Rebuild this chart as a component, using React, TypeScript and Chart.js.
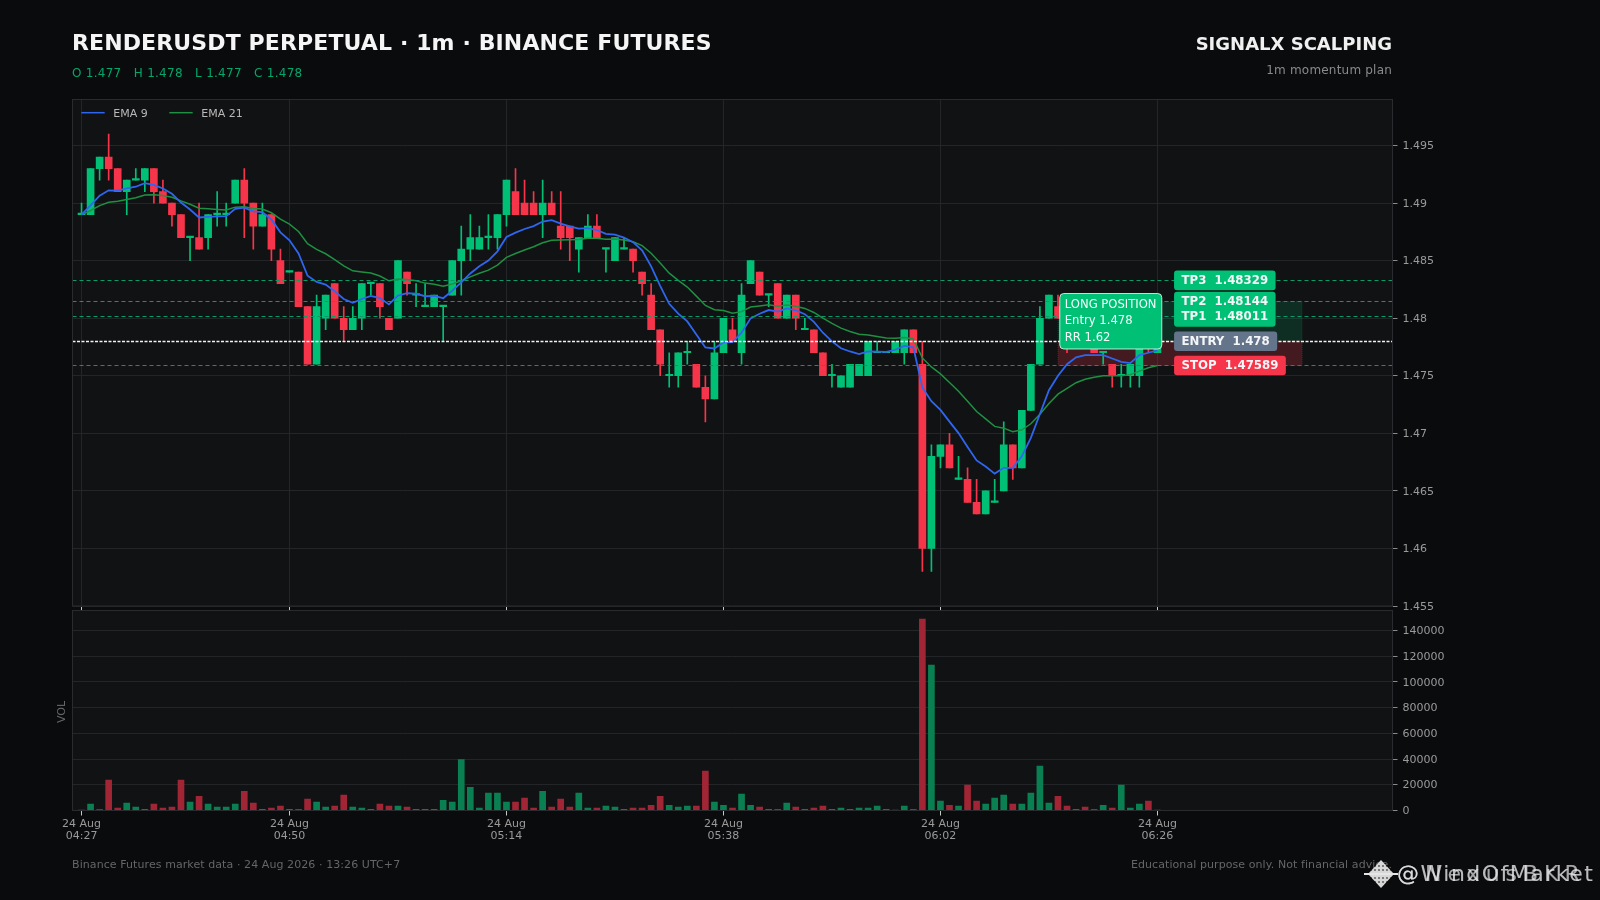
import React, { useEffect, useRef } from "react";
import { Chart, registerables } from "chart.js";

Chart.register(...registerables);

const FONT = '"DejaVu Sans", sans-serif';

const opens = [1.489,1.489,1.493,1.494,1.493,1.491,1.492,1.492,1.493,1.491,1.49,1.489,1.487,1.487,1.487,1.489,1.489,1.49,1.492,1.49,1.488,1.489,1.485,1.484,1.484,1.481,1.476,1.48,1.483,1.48,1.479,1.48,1.483,1.483,1.48,1.48,1.484,1.482,1.481,1.481,1.481,1.482,1.485,1.486,1.486,1.487,1.487,1.489,1.491,1.49,1.49,1.489,1.49,1.488,1.488,1.486,1.487,1.488,1.486,1.485,1.486,1.486,1.484,1.482,1.479,1.475,1.475,1.477,1.476,1.474,1.473,1.477,1.479,1.477,1.483,1.484,1.482,1.483,1.48,1.482,1.479,1.479,1.477,1.475,1.474,1.474,1.475,1.475,1.477,1.477,1.477,1.477,1.479,1.476,1.46,1.468,1.469,1.466,1.466,1.464,1.463,1.464,1.465,1.469,1.467,1.472,1.476,1.48,1.481,1.481,1.478,1.48,1.478,1.477,1.476,1.475,1.475,1.475,1.479,1.477];
const closes = [1.489,1.493,1.494,1.493,1.491,1.492,1.492,1.493,1.491,1.49,1.489,1.487,1.487,1.486,1.489,1.489,1.489,1.492,1.49,1.488,1.489,1.486,1.483,1.484,1.481,1.476,1.481,1.482,1.48,1.479,1.48,1.483,1.483,1.481,1.479,1.485,1.483,1.482,1.481,1.482,1.481,1.485,1.486,1.487,1.487,1.487,1.489,1.492,1.489,1.489,1.489,1.49,1.489,1.487,1.487,1.487,1.488,1.487,1.486,1.487,1.486,1.485,1.483,1.479,1.476,1.475,1.477,1.477,1.474,1.473,1.477,1.48,1.478,1.482,1.485,1.482,1.482,1.48,1.482,1.48,1.479,1.477,1.475,1.475,1.475,1.476,1.476,1.478,1.477,1.477,1.478,1.479,1.477,1.46,1.468,1.469,1.467,1.466,1.464,1.463,1.465,1.464,1.469,1.467,1.472,1.476,1.48,1.482,1.48,1.48,1.479,1.478,1.477,1.477,1.475,1.475,1.476,1.479,1.478,1.478];
const highs = [1.49,1.493,1.494,1.496,1.493,1.492,1.493,1.493,1.493,1.492,1.49,1.489,1.487,1.49,1.489,1.491,1.49,1.492,1.493,1.49,1.49,1.489,1.486,1.484,1.484,1.481,1.482,1.482,1.483,1.481,1.481,1.483,1.483,1.483,1.48,1.485,1.484,1.483,1.483,1.482,1.481,1.485,1.488,1.489,1.488,1.489,1.489,1.492,1.493,1.492,1.491,1.492,1.491,1.491,1.488,1.487,1.489,1.489,1.486,1.487,1.487,1.486,1.484,1.483,1.479,1.477,1.477,1.478,1.476,1.475,1.478,1.48,1.48,1.483,1.485,1.484,1.482,1.483,1.482,1.482,1.48,1.479,1.477,1.476,1.475,1.476,1.476,1.478,1.478,1.477,1.478,1.479,1.479,1.478,1.469,1.469,1.47,1.468,1.467,1.466,1.465,1.466,1.471,1.469,1.472,1.476,1.481,1.482,1.482,1.481,1.479,1.48,1.478,1.477,1.476,1.476,1.476,1.479,1.479,1.478];
const lows = [1.489,1.489,1.492,1.492,1.491,1.489,1.492,1.491,1.49,1.49,1.488,1.487,1.485,1.486,1.486,1.488,1.488,1.49,1.487,1.486,1.488,1.485,1.483,1.484,1.481,1.476,1.476,1.479,1.48,1.478,1.479,1.479,1.482,1.48,1.479,1.48,1.482,1.481,1.481,1.481,1.478,1.482,1.482,1.485,1.486,1.486,1.486,1.488,1.489,1.489,1.489,1.487,1.489,1.486,1.485,1.484,1.487,1.487,1.484,1.485,1.486,1.484,1.482,1.479,1.475,1.474,1.474,1.476,1.474,1.471,1.473,1.477,1.478,1.476,1.483,1.482,1.481,1.48,1.48,1.479,1.479,1.477,1.475,1.474,1.474,1.474,1.475,1.475,1.477,1.477,1.477,1.476,1.477,1.458,1.458,1.467,1.467,1.466,1.464,1.463,1.463,1.464,1.465,1.466,1.467,1.472,1.476,1.48,1.48,1.477,1.478,1.478,1.477,1.476,1.474,1.474,1.474,1.474,1.477,1.477];
const volumes = [300,4900,800,23600,1800,5700,2600,1000,4900,1800,2600,23600,6500,11100,4900,2600,2600,4900,15000,5700,1000,1800,3400,1000,1000,8800,6500,2600,3400,11900,2600,1800,1000,4900,3400,3400,2600,1000,1000,1000,8000,6500,39600,18100,1800,13500,13500,6500,6500,9600,1800,15000,2600,8800,2600,13500,1800,1800,3400,2600,1000,1800,1800,4100,11100,4100,2600,3400,3400,30600,6500,4100,1800,12700,4100,2600,1000,1000,5700,2600,1000,1800,3400,1000,1800,1000,1800,1800,3400,1000,300,3400,1000,148800,113000,7300,4100,3400,19700,7300,4900,9600,11900,4900,4900,13500,34500,5700,11100,3400,1000,2600,1000,4100,1800,19700,1800,4900,7300,200];
const ema9 = [1.489,1.4898,1.49064,1.49111,1.49109,1.49127,1.49142,1.49173,1.49159,1.49127,1.49081,1.49005,1.48944,1.48875,1.4888,1.48884,1.48887,1.4895,1.4896,1.48928,1.48922,1.48858,1.48746,1.48677,1.48562,1.48369,1.48315,1.48292,1.48234,1.48167,1.48134,1.48167,1.48194,1.48175,1.4812,1.48196,1.48217,1.48214,1.48191,1.48193,1.48174,1.48239,1.48311,1.48389,1.48451,1.48501,1.48581,1.48705,1.48744,1.48775,1.488,1.4884,1.48852,1.48822,1.48797,1.48778,1.48782,1.48766,1.48733,1.48726,1.48701,1.48661,1.48589,1.48451,1.48281,1.48125,1.4804,1.47972,1.47858,1.47746,1.47737,1.4779,1.47792,1.47874,1.47999,1.48039,1.48071,1.48057,1.48086,1.48069,1.48035,1.47968,1.47874,1.47799,1.47739,1.47711,1.47689,1.47711,1.47709,1.47707,1.47726,1.4776,1.47748,1.47398,1.47279,1.47203,1.47102,1.47002,1.46882,1.46765,1.46712,1.4665,1.467,1.467,1.468,1.4696,1.47168,1.47374,1.475,1.476,1.4766,1.4768,1.4768,1.4768,1.4765,1.4762,1.4761,1.4768,1.477,1.4772];
const ema21 = [1.489,1.48936,1.48978,1.49007,1.49016,1.49032,1.49047,1.4907,1.49073,1.49066,1.49051,1.49019,1.4899,1.48955,1.4895,1.48945,1.48941,1.48965,1.48968,1.48953,1.48948,1.48916,1.4886,1.48818,1.48753,1.48648,1.48598,1.4856,1.48509,1.48454,1.48412,1.48402,1.48393,1.48367,1.48325,1.48341,1.48337,1.48325,1.48305,1.48295,1.48277,1.48297,1.48325,1.48359,1.4839,1.48418,1.48462,1.48529,1.48562,1.48593,1.48621,1.48655,1.48678,1.4868,1.48682,1.48684,1.48694,1.48695,1.48687,1.48688,1.4868,1.48664,1.48631,1.48565,1.4848,1.48391,1.48328,1.48271,1.48192,1.48111,1.48074,1.48067,1.48043,1.48057,1.48097,1.48107,1.48116,1.48105,1.48114,1.48104,1.48085,1.4805,1.48,1.47955,1.47914,1.47885,1.4786,1.47855,1.47841,1.47828,1.47826,1.47833,1.4782,1.47655,1.47577,1.47516,1.47442,1.47366,1.47278,1.47189,1.47126,1.4706,1.47045,1.47014,1.47031,1.47083,1.47166,1.4726,1.4734,1.4739,1.4744,1.4747,1.47487,1.475,1.475,1.475,1.4751,1.4754,1.4757,1.4759];

const timeTickIndex = [0, 23, 47, 71, 95, 119];
const timeTickDay = ["24 Aug", "24 Aug", "24 Aug", "24 Aug", "24 Aug", "24 Aug"];
const timeTickClock = ["04:27", "04:50", "05:14", "05:38", "06:02", "06:26"];
const priceTicks = [1.455, 1.46, 1.465, 1.47, 1.475, 1.48, 1.485, 1.49, 1.495];
const volumeTicks = [0, 20000, 40000, 60000, 80000, 100000, 120000, 140000];

const levelNames = ["TP3", "TP2", "TP1", "ENTRY", "STOP"];
const levelValues = [1.48329, 1.48144, 1.48011, 1.478, 1.47589];
const levelText = ["1.48329", "1.48144", "1.48011", "1.478", "1.47589"];
const noteLines = ["LONG POSITION", "Entry 1.478", "RR 1.62"];
const seriesNames = ["EMA 9", "EMA 21"];

const UP = "#00c076";
const DOWN = "#f6354a";
const UP_VOL = "#0a8052";
const DOWN_VOL = "#a12535";
const BLUE = "#2f66f0";
const GREEN_LINE = "#1f8f42";
const levelColors = ["#00c076", "#00c076", "#00c076", "#64748b", "#f6354a"];
const lineColors = ["#0a9c66", "#0a9c66", "#0a9c66", "#f2f2f2", "#c93a47"];
const PLOT_BG = "#111214";
const BORDER = "#2a2b2e";
const GRID = "#232528";
const TICK_TEXT = "#9a9a9a";

const xBounds = { min: -1, max: 145 };
const zoneStart = 108;
const zoneEnd = 135;
const tagIndex = 120.84;
const noteIndex = 108.2;

const PLOT_LEFT = 72.5;
const RIGHT_GUTTER = 207.5;

function roundRect(ctx: CanvasRenderingContext2D, x: number, y: number, w: number, h: number, r: number) {
  ctx.beginPath();
  ctx.roundRect(x, y, w, h, r);
}

const panelBackground = {
  id: "panelBackground",
  beforeDraw(chart: any) {
    const { ctx, chartArea: a } = chart;
    ctx.save();
    ctx.fillStyle = PLOT_BG;
    ctx.fillRect(a.left, a.top, a.right - a.left, a.bottom - a.top);
    ctx.restore();
  },
  afterDraw(chart: any) {
    const { ctx, chartArea: a } = chart;
    ctx.save();
    ctx.strokeStyle = BORDER;
    ctx.lineWidth = 1;
    ctx.strokeRect(a.left, a.top, a.right - a.left, a.bottom - a.top);
    ctx.restore();
  },
};

const zones = {
  id: "zones",
  beforeDatasetsDraw(chart: any) {
    const { ctx, scales } = chart;
    const x0 = scales.x.getPixelForValue(zoneStart);
    const x1 = scales.x.getPixelForValue(zoneEnd);
    const top = scales.y.getPixelForValue(levelValues[1]);
    const mid = scales.y.getPixelForValue(levelValues[3]);
    const bot = scales.y.getPixelForValue(levelValues[4]);
    ctx.save();
    ctx.lineWidth = 1;
    ctx.setLineDash([1, 1]);
    ctx.fillStyle = "rgba(0,192,118,0.16)";
    ctx.strokeStyle = "rgba(0,192,118,0.22)";
    ctx.fillRect(x0, top, x1 - x0, mid - top);
    ctx.strokeRect(x0, top, x1 - x0, mid - top);
    ctx.fillStyle = "rgba(246,53,74,0.22)";
    ctx.strokeStyle = "rgba(246,53,74,0.3)";
    ctx.fillRect(x0, mid, x1 - x0, bot - mid);
    ctx.strokeRect(x0, mid, x1 - x0, bot - mid);
    ctx.restore();
  },
};

const overlays = {
  id: "overlays",
  afterDatasetsDraw(chart: any) {
    const { ctx, scales, chartArea: a } = chart;
    ctx.save();
    levelValues.forEach((v, i) => {
      const y = Math.floor(scales.y.getPixelForValue(v)) + 0.5;
      ctx.beginPath();
      ctx.setLineDash(i === 3 ? [3, 1.5] : [4, 3]);
      ctx.lineWidth = i === 3 ? 1.5 : 1;
      ctx.strokeStyle = lineColors[i];
      ctx.moveTo(a.left, y);
      ctx.lineTo(a.right, y);
      ctx.stroke();
    });
    ctx.setLineDash([]);

    // legend
    ctx.font = `11px ${FONT}`;
    ctx.textBaseline = "middle";
    ctx.textAlign = "left";
    const legendX = [81.3, 169.3];
    [BLUE, GREEN_LINE].forEach((c, i) => {
      ctx.strokeStyle = c;
      ctx.lineWidth = 1.5;
      ctx.beginPath();
      ctx.moveTo(legendX[i], 112.7);
      ctx.lineTo(legendX[i] + 23.4, 112.7);
      ctx.stroke();
      ctx.fillStyle = "#b8b8b8";
      ctx.fillText(seriesNames[i], legendX[i] + 32, 114.5);
    });

    // level tags
    ctx.font = `bold 11.75px ${FONT}`;
    const tagX = scales.x.getPixelForValue(tagIndex);
    levelNames.forEach((name, i) => {
      const label = `${name}  ${levelText[i]}`;
      const w = ctx.measureText(label).width + 15;
      const yc = scales.y.getPixelForValue(levelValues[i]);
      ctx.fillStyle = levelColors[i];
      roundRect(ctx, tagX, yc - 9.8, w, 19.6, 3);
      ctx.fill();
    });
    levelNames.forEach((name, i) => {
      const label = `${name}  ${levelText[i]}`;
      const yc = scales.y.getPixelForValue(levelValues[i]);
      ctx.fillStyle = "#f4f6f8";
      ctx.fillText(label, tagX + 7.5, yc + 0.5);
    });

    // position note
    const nx = scales.x.getPixelForValue(noteIndex);
    ctx.fillStyle = UP;
    ctx.strokeStyle = "rgba(235,255,248,0.8)";
    ctx.lineWidth = 1;
    roundRect(ctx, nx, 293.5, 102, 55.5, 4);
    ctx.fill();
    ctx.stroke();
    ctx.font = `11.6px ${FONT}`;
    ctx.fillStyle = "#f2fff9";
    noteLines.forEach((t, i) => ctx.fillText(t, nx + 5, 304.5 + i * 16.6));
    ctx.restore();
  },
};

const xAxisBase = (drawGrid: boolean, showLabels: boolean, tickLength: number, axisHeight: number) => ({
  type: "linear",
  min: xBounds.min,
  max: xBounds.max,
  offset: false,
  afterBuildTicks: (axis: any) => {
    axis.ticks = timeTickIndex.map((value) => ({ value }));
  },
  afterFit: (axis: any) => {
    axis.height = axisHeight;
  },
  grid: {
    display: true,
    offset: false,
    drawOnChartArea: drawGrid,
    drawTicks: true,
    tickLength,
    color: GRID,
    tickColor: "#c8c8c8",
    lineWidth: 1,
  },
  border: { display: false },
  ticks: {
    display: showLabels,
    autoSkip: false,
    maxRotation: 0,
    padding: 3.5,
    color: TICK_TEXT,
    font: { family: FONT, size: 11, lineHeight: 1.02 },
    callback: (value: number) => {
      const i = timeTickIndex.indexOf(value);
      return i < 0 ? "" : [timeTickDay[i], timeTickClock[i]];
    },
  },
});

const yAxisBase = (values: number[], min: number, max: number) => ({
  position: "right",
  min,
  max,
  afterBuildTicks: (axis: any) => {
    axis.ticks = values.map((value) => ({ value }));
  },
  afterFit: (axis: any) => {
    axis.width = RIGHT_GUTTER;
  },
  grid: { color: GRID, tickColor: "#8a8a8a", tickLength: 5, lineWidth: 1 },
  border: { display: false },
  ticks: {
    padding: 5,
    labelOffset: 0.8,
    color: TICK_TEXT,
    font: { family: FONT, size: 11 },
    callback: (value: number) => String(value),
  },
});

export default function App() {
  const priceRef = useRef<HTMLCanvasElement>(null);
  const volRef = useRef<HTMLCanvasElement>(null);

  useEffect(() => {
    const idx = opens.map((_, i) => i);
    const bodyColors = idx.map((i) => (closes[i] >= opens[i] ? UP : DOWN));
    const volColors = idx.map((i) => (closes[i] >= opens[i] ? UP_VOL : DOWN_VOL));

    const price = new Chart(priceRef.current!, {
      type: "bar",
      data: {
        datasets: [
          {
            type: "line",
            label: seriesNames[0],
            data: idx.map((i) => ({ x: i, y: ema9[i] })),
            borderColor: BLUE,
            borderWidth: 1.8,
            pointRadius: 0,
            tension: 0,
            order: 1,
          },
          {
            type: "line",
            label: seriesNames[1],
            data: idx.map((i) => ({ x: i, y: ema21[i] })),
            borderColor: GREEN_LINE,
            borderWidth: 1.5,
            pointRadius: 0,
            tension: 0,
            order: 2,
          },
          {
            label: "Body",
            data: idx.map((i) => ({ x: i, y: [opens[i], closes[i]] })),
            backgroundColor: bodyColors,
            barThickness: 7,
            minBarLength: 1.5,
            grouped: false,
            order: 3,
          },
          {
            label: "Wick",
            data: idx.map((i) => ({ x: i, y: [lows[i], highs[i]] })),
            backgroundColor: bodyColors,
            barThickness: 1,
            grouped: false,
            order: 4,
          },
        ] as any,
      },
      options: {
        responsive: false,
        animation: false,
        layout: { padding: { left: PLOT_LEFT, top: 99.5, right: 0, bottom: 0 } },
        plugins: { legend: { display: false }, tooltip: { enabled: false } },
        scales: {
          x: xAxisBase(true, false, 4, 294),
          y: yAxisBase(priceTicks, 1.455, 1.499),
        } as any,
      },
      plugins: [panelBackground, zones, overlays],
    });

    const vol = new Chart(volRef.current!, {
      type: "bar",
      data: {
        datasets: [
          {
            label: "VOL",
            data: idx.map((i) => ({ x: i, y: volumes[i] })),
            backgroundColor: volColors,
            barThickness: 6,
          },
        ] as any,
      },
      options: {
        responsive: false,
        animation: false,
        layout: { padding: { left: PLOT_LEFT, top: 610.5, right: 0, bottom: 0 } },
        plugins: { legend: { display: false }, tooltip: { enabled: false } },
        scales: {
          x: xAxisBase(false, true, 5, 89.5),
          y: yAxisBase(volumeTicks, 0, 155500),
        } as any,
      },
      plugins: [panelBackground],
    });

    return () => {
      price.destroy();
      vol.destroy();
    };
  }, []);

  const abs = (style: React.CSSProperties): React.CSSProperties => ({
    position: "absolute",
    fontFamily: FONT,
    whiteSpace: "pre",
    ...style,
  });
  const canvasStyle: React.CSSProperties = { position: "absolute", left: 0, top: 0, width: 1600, height: 900 };

  return (
    <div style={{ position: "fixed", left: 0, top: 0, width: 1600, height: 900, background: "#0a0b0d", overflow: "hidden" }}>
      <canvas ref={priceRef} width={1600} height={900} style={canvasStyle} />
      <canvas ref={volRef} width={1600} height={900} style={canvasStyle} />
      <div style={abs({ left: 72, top: 30, fontSize: 22, lineHeight: "26px", letterSpacing: 0.12, fontWeight: 700, color: "#f5f5f5" })}>
        RENDERUSDT PERPETUAL · 1m · BINANCE FUTURES
      </div>
      <div style={abs({ left: 72, top: 65.5, fontSize: 12, lineHeight: "15px", letterSpacing: 0.27, color: "#00a86b" })}>
        {"O 1.477   H 1.478   L 1.477   C 1.478"}
      </div>
      <div style={abs({ right: 208, top: 33, fontSize: 18, lineHeight: "21px", fontWeight: 700, color: "#f0f0f0" })}>
        SIGNALX SCALPING
      </div>
      <div style={abs({ right: 208, top: 63, fontSize: 12, lineHeight: "15px", letterSpacing: 0.2, color: "#8a8a8a" })}>1m momentum plan</div>
      <div style={abs({ left: 56, top: 711.5, width: 11, fontSize: 11, lineHeight: "11px", color: "#666", transform: "rotate(-90deg)", transformOrigin: "center", textAlign: "center" })}>
        VOL
      </div>
      <div style={abs({ left: 72, top: 858, fontSize: 11, lineHeight: "14px", letterSpacing: 0.08, color: "#666" })}>
        Binance Futures market data · 24 Aug 2026 · 13:26 UTC+7
      </div>
      <div style={abs({ right: 208, top: 858, fontSize: 11, lineHeight: "14px", letterSpacing: 0.08, color: "#666" })}>
        Educational purpose only. Not financial advice.
      </div>
      <svg width={34} height={30} viewBox="0 0 34 30" style={{ position: "absolute", left: 1364, top: 859 }}>
        <path d="M17 1 L30 15 L17 29 L4 15 Z" fill="#d8d8d8" />
        {[6, 10, 14, 18, 22, 26].map((cx) =>
          [7, 11, 15, 19, 23].map((cy) => <circle key={`${cx}-${cy}`} cx={cx + 1} cy={cy} r={1.1} fill="#0a0b0d" opacity={0.55} />)
        )}
        <rect x={0} y={14} width={34} height={2} fill="#e5e5e5" />
      </svg>
      <div style={abs({ left: 1397, top: 860, fontSize: 22, lineHeight: "28px", letterSpacing: 1.5, color: "rgba(232,232,232,0.8)" })}>@WindOfMarket</div>
      <div style={abs({ left: 1397, top: 860, fontSize: 22, lineHeight: "28px", letterSpacing: 6, color: "rgba(232,232,232,0.7)" })}>@NexusBKR</div>
    </div>
  );
}
